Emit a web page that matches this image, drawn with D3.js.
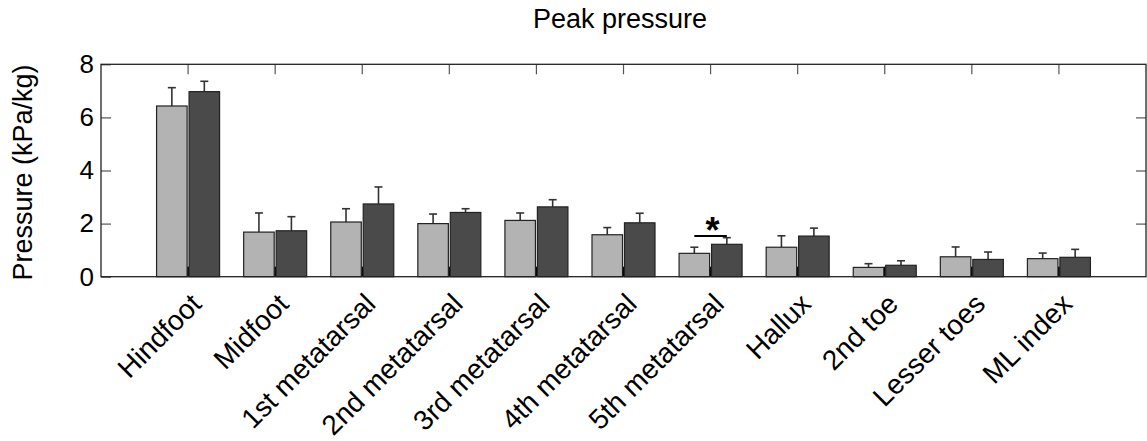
<!DOCTYPE html>
<html>
<head>
<meta charset="utf-8">
<script src="https://cdn.jsdelivr.net/npm/d3@7"></script>
<style>
	body { margin: 0; background: #fff; }
	svg { display: block; font-family: "Liberation Sans", Arial, Helvetica, sans-serif; }
</style>
</head>
<body>
<svg id="chart"></svg>
<script>
const categories = ['Hindfoot', 'Midfoot', '1st metatarsal', '2nd metatarsal', '3rd metatarsal', '4th metatarsal', '5th metatarsal', 'Hallux', '2nd toe', 'Lesser toes', 'ML index']
const seriesNames = ['light', 'dark']
const lightMean = [6.43, 1.68, 2.06, 2.00, 2.12, 1.58, 0.88, 1.11, 0.35, 0.75, 0.68]
const lightSd = [0.69, 0.72, 0.50, 0.36, 0.28, 0.27, 0.23, 0.43, 0.14, 0.37, 0.21]
const darkMean = [6.97, 1.73, 2.74, 2.42, 2.63, 2.03, 1.22, 1.53, 0.43, 0.65, 0.73]
const darkSd = [0.39, 0.53, 0.64, 0.14, 0.27, 0.36, 0.25, 0.30, 0.17, 0.28, 0.30]
const yTicks = [0, 2, 4, 6, 8]
const sigCategory = '5th metatarsal'
const sigLevel = 1.53

class PressureChart {
	constructor(params = {}) {
		this.width = 1147
		this.height = 441
		this.left = 101
		this.right = 1146
		this.top = 64.3
		this.bottom = 276.7
		this.fills = { light: '#b3b3b3', dark: '#4a4a4a' }
		this.svg = d3.select(params.selector)
			.attr('width', this.width)
			.attr('height', this.height)
	}

	setupScales() {
		this.x = d3.scaleBand().domain(categories).range([this.left, this.right]).paddingInner(0).paddingOuter(0.5)
		const step = this.x.step()
		this.xSub = d3.scaleBand().domain(seriesNames)
			.range([step / 2 - 31.5, step / 2 + 31.5])
			.paddingInner(0.06)
		this.y = d3.scaleLinear().domain([0, 8]).range([this.bottom, this.top])
	}

	drawAxes() {
		const svg = this.svg
		const tickLen = 10
		const centers = categories.map(c => this.x(c) + this.x.bandwidth() / 2)

		// bottom ticks (sit under the bars, only visible between them)
		svg.append('g').selectAll('line')
			.data(centers)
			.enter()
			.append('line')
			.attr('x1', d => d).attr('x2', d => d)
			.attr('y1', this.bottom).attr('y2', this.bottom - tickLen)
			.attr('stroke', '#000')
			.attr('stroke-width', 2)

		// top ticks
		svg.append('g').selectAll('line')
			.data(centers)
			.enter()
			.append('line')
			.attr('x1', d => d).attr('x2', d => d)
			.attr('y1', this.top).attr('y2', this.top + tickLen)
			.attr('stroke', '#555')
			.attr('stroke-width', 1.2)

		const left = svg.append('g')
			.attr('transform', `translate(${this.left},0)`)
			.call(d3.axisLeft(this.y).tickValues(yTicks).tickSizeInner(-tickLen).tickSizeOuter(0).tickPadding(7))
		left.select('.domain').remove()
		left.selectAll('.tick line').attr('stroke', '#555').attr('stroke-width', 1.2)
		left.selectAll('.tick text')
			.attr('font-size', 26)
			.attr('fill', '#000')
			.attr('font-family', '"Liberation Sans", Arial, sans-serif')

		const right = svg.append('g')
			.attr('transform', `translate(${this.right},0)`)
			.call(d3.axisRight(this.y).tickValues(yTicks.slice(1, -1)).tickSizeInner(-tickLen).tickSizeOuter(0).tickFormat(''))
		right.select('.domain').remove()
		right.selectAll('.tick line').attr('stroke', '#555').attr('stroke-width', 1.2)

		// x labels, rotated
		svg.append('g').selectAll('text')
			.data(categories)
			.enter()
			.append('text')
			.attr('transform', d => `translate(${this.x(d) + this.x.bandwidth() / 2 + 15},${this.bottom + 29}) rotate(-45)`)
			.attr('text-anchor', 'end')
			.attr('font-size', 28)
			.attr('fill', '#000')
			.text(d => d)

		svg.append('text')
			.attr('transform', `translate(32,${(this.top + this.bottom) / 2 + 2}) rotate(-90)`)
			.attr('text-anchor', 'middle')
			.attr('font-size', 27)
			.text('Pressure (kPa/kg)')

		svg.append('text')
			.attr('x', 620)
			.attr('y', 28)
			.attr('text-anchor', 'middle')
			.attr('font-size', 27)
			.text('Peak pressure')
	}

	drawBars() {
		const rows = []
		categories.forEach((c, i) => {
			rows.push({ cat: c, key: 'light', mean: lightMean[i], sd: lightSd[i] })
			rows.push({ cat: c, key: 'dark', mean: darkMean[i], sd: darkSd[i] })
		})
		const bx = d => this.x(d.cat) + this.xSub(d.key)
		const cx = d => bx(d) + this.xSub.bandwidth() / 2

		const g = this.svg.append('g')
		// error bars first, bars drawn over the lower part
		g.selectAll('line.err')
			.data(rows)
			.enter()
			.append('line')
			.attr('class', 'err')
			.attr('x1', cx).attr('x2', cx)
			.attr('y1', d => this.y(d.mean))
			.attr('y2', d => this.y(d.mean + d.sd))
			.attr('stroke', '#333')
			.attr('stroke-width', 1.6)
		g.selectAll('line.cap')
			.data(rows)
			.enter()
			.append('line')
			.attr('class', 'cap')
			.attr('x1', d => cx(d) - 4).attr('x2', d => cx(d) + 4)
			.attr('y1', d => this.y(d.mean + d.sd))
			.attr('y2', d => this.y(d.mean + d.sd))
			.attr('stroke', '#333')
			.attr('stroke-width', 1.6)

		g.selectAll('rect')
			.data(rows)
			.enter()
			.append('rect')
			.attr('x', bx)
			.attr('y', d => this.y(d.mean))
			.attr('width', this.xSub.bandwidth())
			.attr('height', d => this.y(0) - this.y(d.mean))
			.attr('fill', d => this.fills[d.key])
			.attr('stroke', '#222')
			.attr('stroke-width', 1.2)
	}

	drawSignificance() {
		const x0 = this.x(sigCategory) + this.xSub('light') + this.xSub.bandwidth() / 2
		const x1 = this.x(sigCategory) + this.xSub('dark') + this.xSub.bandwidth() / 2
		const ys = this.y(sigLevel)
		this.svg.append('line')
			.attr('x1', x0).attr('x2', x1)
			.attr('y1', ys).attr('y2', ys)
			.attr('stroke', '#000')
			.attr('stroke-width', 2)
		this.svg.append('text')
			.attr('x', (x0 + x1) / 2 + 2)
			.attr('y', ys + 7)
			.attr('text-anchor', 'middle')
			.attr('font-size', 36)
			.attr('font-weight', 'bold')
			.text('*')
	}

	drawFrame() {
		this.svg.append('rect')
			.attr('x', this.left)
			.attr('y', this.top)
			.attr('width', this.right - this.left)
			.attr('height', this.bottom - this.top)
			.attr('fill', 'none')
			.attr('stroke', '#222')
			.attr('stroke-width', 1.3)
	}

	draw() {
		this.setupScales()
		this.drawAxes()
		this.drawBars()
		this.drawSignificance()
		this.drawFrame()
	}
}

new PressureChart({ selector: '#chart' }).draw()
</script>
</body>
</html>
